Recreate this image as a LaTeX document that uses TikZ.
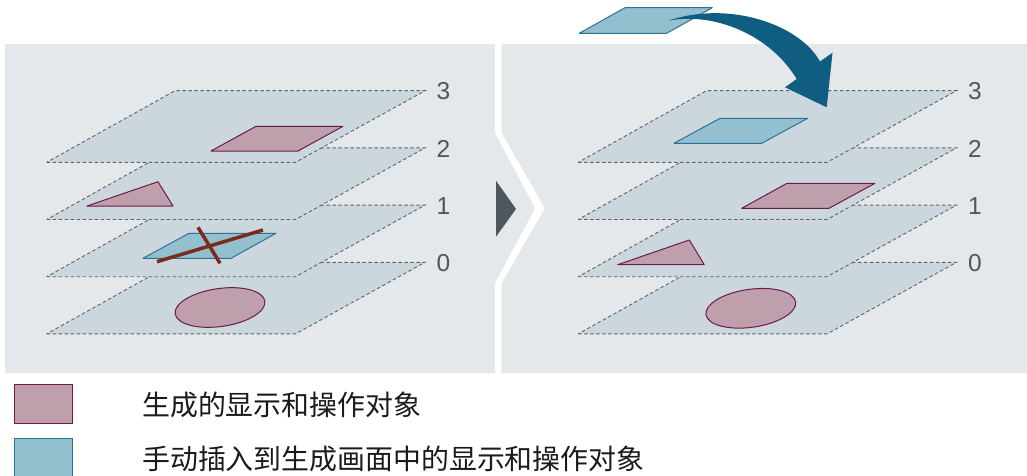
\documentclass[tikz,border=0pt]{standalone}
\usepackage{fontspec}
\newfontfamily\cjk{Noto Sans CJK SC}
\newfontfamily\digitfont{Liberation Sans}
\definecolor{panelc}{HTML}{E4E8EB}
\definecolor{layerc}{HTML}{CCD7DD}
\definecolor{dashc}{HTML}{5B6570}
\definecolor{pinkf}{HTML}{BF9FAC}
\definecolor{pinks}{HTML}{6B1A4E}
\definecolor{bluef}{HTML}{94BFCF}
\definecolor{blues}{HTML}{2A7396}
\definecolor{arrowc}{HTML}{0F5E82}
\definecolor{labelc}{HTML}{4D575E}
\definecolor{crossc}{HTML}{7B2A1C}
\definecolor{textc}{HTML}{1A1A1A}
\tikzset{
  layer/.style={fill=layerc, draw=dashc, line width=0.9pt, dash pattern=on 3.5pt off 2.5pt},
  pinkshape/.style={fill=pinkf, draw=pinks, line width=1pt, line join=round},
  blueshape/.style={fill=bluef, draw=blues, line width=1pt, line join=round},
  crossline/.style={draw=crossc, line width=3.5pt},
  lvl/.style={font=\digitfont\fontsize{24.5}{28}\selectfont, text=labelc, inner sep=0pt},
  legtext/.style={font=\cjk\fontsize{27.9}{30}\selectfont, text=textc, inner sep=0pt, anchor=west},
  panel/.style={fill=panelc}
}
\newcommand\drawlayer[2]{%
  \pgfmathsetmacro\lt{90.7+57.2*(3-#2)}%
  \pgfmathsetmacro\lb{\lt+71.6}%
  \path[layer] ({46.7+#1},\lb) -- ({295.5+#1},\lb) -- ({425+#1},\lt) -- ({175+#1},\lt) -- cycle;
}
\begin{document}
\begin{tikzpicture}[x=1pt,y=-1pt]
\useasboundingbox (0,0) rectangle (1027,476);
\fill[white] (0,0) rectangle (1027,476);
% panels
\fill[panel] (5,44) -- (495,44) -- (495,133) -- (535,208.3) -- (495,283) -- (495,373) -- (5,373) -- cycle;
\fill[panel] (501.7,44) -- (1027,44) -- (1027,373) -- (501.7,373) -- (501.7,283) -- (545,208.3) -- (501.7,133) -- cycle;
\fill[labelc] (496,180.7) -- (516,209) -- (496,236.7) -- cycle;
% left panel
\drawlayer{0}{0}
\draw[pinkshape, rotate around={8:(220,307.5)}] (220,307.5) ellipse [x radius=45.3pt, y radius=19pt];
\drawlayer{0}{1}
\draw[blueshape] (143,258.3) -- (231,258.3) -- (276,233.3) -- (189,233.3) -- cycle;
\draw[crossline] (157,261.7) -- (263,230);
\draw[crossline] (198,227.3) -- (220,263.3);
\drawlayer{0}{2}
\draw[pinkshape] (87,206) -- (173,206) -- (158,181.7) -- cycle;
\drawlayer{0}{3}
\draw[pinkshape] (211,151) -- (298,151) -- (343,126.3) -- (256,126.3) -- cycle;
\node[lvl] (l3) at (443.5,91.5) {3};
\node[lvl] (l2) at (443.5,148.7) {2};
\node[lvl] (l1) at (443.5,205.9) {1};
\node[lvl] (l0) at (443.5,263.1) {0};
% right panel
\drawlayer{531.5}{0}
\draw[pinkshape, rotate around={8:(750.8,308.3)}] (750.8,308.3) ellipse [x radius=45.3pt, y radius=19pt];
\drawlayer{531.5}{1}
\draw[pinkshape] (617.7,264.7) -- (704.3,264.7) -- (689.3,240) -- cycle;
\drawlayer{531.5}{2}
\draw[pinkshape] (741.7,208.3) -- (829,208.3) -- (875,183.3) -- (787,183.3) -- cycle;
\drawlayer{531.5}{3}
\draw[blueshape] (674,143.3) -- (761.7,143.3) -- (807.7,118.3) -- (720,118.3) -- cycle;
\node[lvl] (r3) at (975,91.5) {3};
\node[lvl] (r2) at (975,148.7) {2};
\node[lvl] (r1) at (975,205.9) {1};
\node[lvl] (r0) at (975,263.1) {0};
% floating object and arrow
\draw[blueshape] (579.3,33.3) -- (666.7,33.3) -- (712.3,7.7) -- (625,7.7) -- cycle;
\fill[arrowc] (668.5,20.6) .. controls (730,0) and (800,25) .. (820,61.5) -- (832.5,52.7) -- (826.7,107.3) -- (785,87.3) -- (796.7,79) .. controls (770,35) and (715,12) .. cycle;
% legend
\draw[pinkshape, line join=miter] (14,384.3) rectangle (72.7,423.3);
\draw[blueshape, line join=miter] (14,438.7) rectangle (72.7,478);
\node[legtext] (t1) at (142,405) {生成的显示和操作对象};
\node[legtext] (t2) at (142,459) {手动插入到生成画面中的显示和操作对象};
\end{tikzpicture}
\end{document}
